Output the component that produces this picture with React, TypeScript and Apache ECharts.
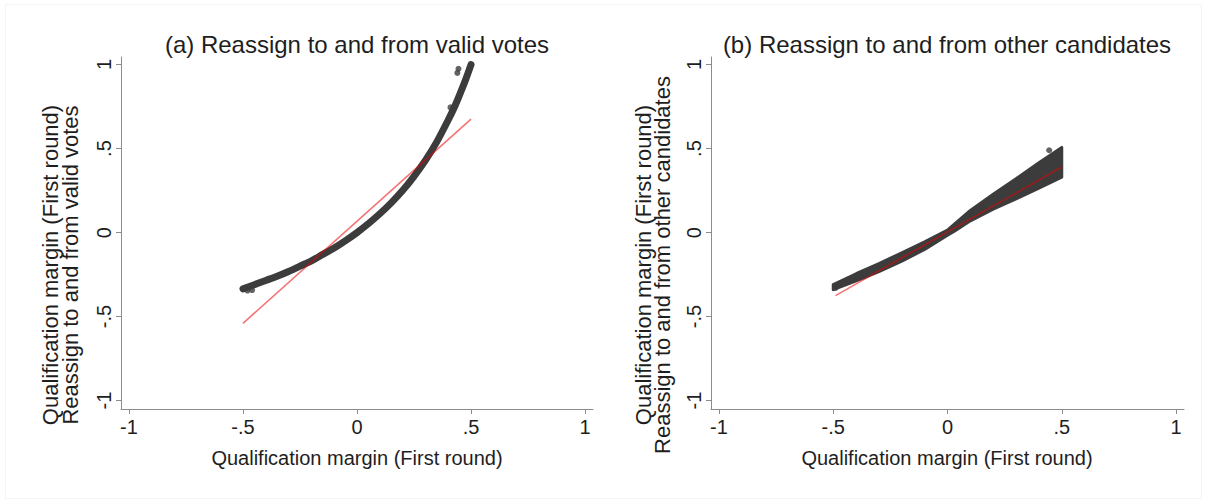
import React, { useEffect, useRef } from "react";
import * as echarts from "echarts";

// Panel (a): reassign to and from valid votes (dense scatter read as a curve)
const aX = [-0.5, -0.45, -0.4, -0.35, -0.3, -0.25, -0.2, -0.15, -0.1, -0.05, 0, 0.05, 0.1, 0.15, 0.2, 0.25, 0.3, 0.35, 0.4, 0.425, 0.45, 0.475, 0.5];
const aY = [-0.335, -0.31, -0.285, -0.26, -0.232, -0.2, -0.168, -0.13, -0.092, -0.048, 0, 0.053, 0.112, 0.177, 0.25, 0.335, 0.43, 0.54, 0.67, 0.74, 0.82, 0.905, 1.0];
const aOutX = [-0.48, -0.46, 0.41, 0.44, 0.445];
const aOutY = [-0.345, -0.342, 0.745, 0.95, 0.975];
const aFitX = [-0.5, 0.5];
const aFitY = [-0.54, 0.675];

// Panel (b): reassign to and from other candidates (band of points)
const bX = [-0.5, -0.4, -0.3, -0.2, -0.1, 0, 0.03, 0.1, 0.2, 0.3, 0.4, 0.5];
const bUpper = [-0.31, -0.245, -0.185, -0.12, -0.055, 0.015, 0.05, 0.132, 0.228, 0.32, 0.415, 0.507];
const bLower = [-0.34, -0.287, -0.232, -0.17, -0.1, -0.016, 0.008, 0.07, 0.14, 0.2, 0.265, 0.33];
const bOutX = [-0.49, 0.445];
const bOutY = [-0.33, 0.49];
const bFitX = [-0.49, 0.5];
const bFitY = [-0.375, 0.39];

const tickVals = [-1, -0.5, 0, 0.5, 1];
const titleA = "(a) Reassign to and from valid votes";
const titleB = "(b) Reassign to and from other candidates";
const xTitle = "Qualification margin (First round)";
const yTitle1 = "Qualification margin (First round)";
const yTitleA2 = "Reassign to and from valid votes";
const yTitleB2 = "Reassign to and from other candidates";

const FONT = "'Liberation Sans', Arial, sans-serif";
const TEXT = "#1e1e1e";
const AXIS = "#8c8c8c";
const DOT = "#3c3c3c";
const FIT = "rgba(235,0,0,0.55)";

const fmt = (v: number) => {
  if (v === 0) return "0";
  const s = String(Math.abs(v)).replace(/^0/, "");
  return (v < 0 ? "-" : "") + s;
};

const zip = (xs: number[], ys: number[]) => xs.map((x, i) => [x, ys[i]]);

function axisX(gridIndex: number) {
  return {
    type: "value",
    gridIndex,
    min: -1.035,
    max: 1.035,
    splitLine: { show: false },
    axisLine: { show: true, onZero: false, lineStyle: { color: AXIS, width: 1 } },
    axisTick: { show: true, length: 5, customValues: tickVals, lineStyle: { color: AXIS } },
    axisLabel: {
      customValues: tickVals,
      formatter: fmt,
      color: TEXT,
      fontSize: 20,
      fontFamily: FONT,
      margin: 8,
    },
  };
}

function axisY(gridIndex: number) {
  return {
    type: "value",
    gridIndex,
    min: -1.05,
    max: 1.045,
    splitLine: { show: false },
    axisLine: { show: true, onZero: false, lineStyle: { color: AXIS, width: 1 } },
    axisTick: { show: true, length: 5, customValues: tickVals, lineStyle: { color: AXIS } },
    axisLabel: {
      customValues: tickVals,
      formatter: fmt,
      rotate: 90,
      color: TEXT,
      fontSize: 20,
      fontFamily: FONT,
      margin: 7,
    },
  };
}

function txt(text: string, x: number, y: number, size: number, rot = 0) {
  return {
    type: "text",
    x,
    y,
    rotation: rot,
    silent: true,
    style: {
      text,
      fill: TEXT,
      font: `${size}px ${FONT}`,
      textAlign: "center",
      textVerticalAlign: "middle",
    },
  };
}

export default function App() {
  const ref = useRef<HTMLDivElement>(null);
  useEffect(() => {
    if (!ref.current) return;
    const chart = echarts.init(ref.current, undefined, { renderer: "svg" });
    const option: any = {
      animation: false,
      backgroundColor: "#ffffff",
      grid: [
        { left: 121, top: 57, width: 472, height: 352 },
        { left: 711, top: 57, width: 473, height: 352 },
      ],
      xAxis: [axisX(0), axisX(1)],
      yAxis: [axisY(0), axisY(1)],
      series: [
        {
          type: "line",
          xAxisIndex: 0,
          yAxisIndex: 0,
          data: zip(aX, aY),
          showSymbol: false,
          symbol: "none",
          smooth: 0.3,
          lineStyle: { color: DOT, width: 7, cap: "round", join: "round" },
          z: 2,
        },
        {
          type: "scatter",
          xAxisIndex: 0,
          yAxisIndex: 0,
          data: zip(aOutX, aOutY),
          symbolSize: 6,
          itemStyle: { color: DOT },
          z: 2,
        },
        {
          type: "line",
          xAxisIndex: 0,
          yAxisIndex: 0,
          data: zip(aFitX, aFitY),
          showSymbol: false,
          symbol: "none",
          lineStyle: { color: FIT, width: 1.6 },
          z: 3,
        },
        {
          type: "custom",
          xAxisIndex: 1,
          yAxisIndex: 1,
          data: [[0, 0]],
          renderItem: (_params: any, api: any) => {
            const pts: number[][] = [];
            for (let i = 0; i < bX.length; i++) pts.push(api.coord([bX[i], bUpper[i]]));
            for (let i = bX.length - 1; i >= 0; i--) pts.push(api.coord([bX[i], bLower[i]]));
            return {
              type: "polygon",
              shape: { points: pts },
              style: { fill: DOT, stroke: DOT, lineWidth: 3, lineJoin: "round" },
            };
          },
          z: 2,
        },
        {
          type: "scatter",
          xAxisIndex: 1,
          yAxisIndex: 1,
          data: zip(bOutX, bOutY),
          symbolSize: 6,
          itemStyle: { color: DOT },
          z: 2,
        },
        {
          type: "line",
          xAxisIndex: 1,
          yAxisIndex: 1,
          data: zip(bFitX, bFitY),
          showSymbol: false,
          symbol: "none",
          lineStyle: { color: FIT, width: 1.6 },
          z: 3,
        },
      ],
      graphic: [
        {
          type: "rect",
          shape: { x: 5.5, y: 4.5, width: 1196, height: 494 },
          style: { fill: "none", stroke: "#f4f4f4", lineWidth: 1 },
          silent: true,
          z: -1,
        },
        txt(titleA, 357, 44, 24),
        txt(titleB, 947, 44, 24),
        txt(xTitle, 357, 458, 20),
        txt(xTitle, 947, 458, 20),
        txt(yTitle1, 50, 265, 22, Math.PI / 2),
        txt(yTitleA2, 70, 265, 22, Math.PI / 2),
        txt(yTitle1, 643, 265, 22, Math.PI / 2),
        txt(yTitleB2, 662, 265, 22, Math.PI / 2),
      ],
    };
    chart.setOption(option);
    return () => chart.dispose();
  }, []);
  return (
    <div
      ref={ref}
      style={{ position: "fixed", left: 0, top: 0, width: 1207, height: 503, background: "#fff" }}
    />
  );
}
